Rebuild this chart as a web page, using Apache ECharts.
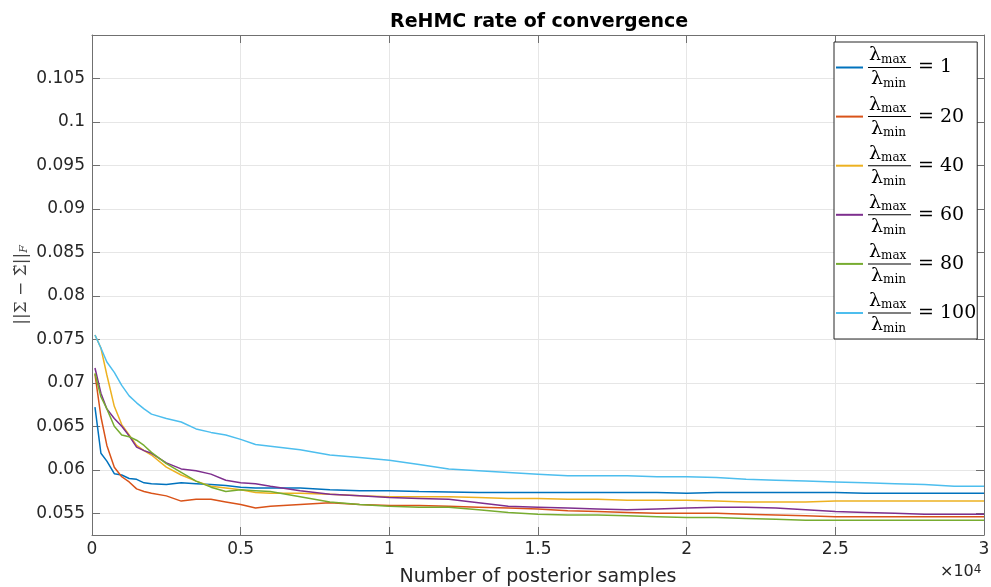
<!DOCTYPE html>
<html>
<head>
<meta charset="utf-8">
<script src="https://cdn.jsdelivr.net/npm/echarts@6/dist/echarts.min.js"></script>
<style>
  html, body { margin: 0; padding: 0; background: #fff; }
  #chart { width: 991px; height: 587px; }
</style>
</head>
<body>
<div id="chart"></div>
<script>
const samples = [100, 300, 500, 750, 1000, 1250, 1500, 1750, 2000, 2500, 3000, 3500, 4000, 4500, 5000,
    5500, 6000, 7000, 8000, 9000, 10000, 11000, 12000, 13000, 14000, 15000, 16000, 17000, 18000, 19000,
    20000, 21000, 22000, 23000, 24000, 25000, 26000, 27000, 28000, 29000, 30000];

const ratios = [1, 20, 40, 60, 80, 100];
const colors = ['#0072BD', '#D95319', '#EDB120', '#7E2F8E', '#77AC30', '#4DBEEE'];

const ratio1 = [0.0672, 0.0619, 0.0610, 0.05955, 0.0594, 0.0590, 0.0589, 0.0585, 0.0584, 0.0583, 0.0585,
    0.0584, 0.0583, 0.0582, 0.0580, 0.0579, 0.0579, 0.0579, 0.0577, 0.0576, 0.0576, 0.0575, 0.05745, 0.0574,
    0.0574, 0.0574, 0.0574, 0.0574, 0.0574, 0.0574, 0.0573, 0.0574, 0.0574, 0.0574, 0.0574, 0.0574, 0.0573,
    0.0573, 0.0573, 0.0573, 0.0573];
const ratio20 = [0.0710, 0.0661, 0.0628, 0.0603, 0.0592, 0.0586, 0.0578, 0.0575, 0.0573, 0.0570, 0.0564,
    0.0566, 0.0566, 0.0563, 0.0560, 0.0556, 0.0558, 0.0560, 0.0562, 0.0560, 0.0559, 0.0559, 0.0558, 0.0557,
    0.0556, 0.0555, 0.0553, 0.0552, 0.0551, 0.0550, 0.0550, 0.0550, 0.0549, 0.0548, 0.0547, 0.0546, 0.0546,
    0.0546, 0.0546, 0.0546, 0.0546];
const ratio40 = [0.0755, 0.0740, 0.0709, 0.0673, 0.0652, 0.0640, 0.0628, 0.0622, 0.0617, 0.0603, 0.0594,
    0.0587, 0.0581, 0.0579, 0.0577, 0.0574, 0.0573, 0.0573, 0.0572, 0.0570, 0.0569, 0.0569, 0.0569, 0.0568,
    0.0567, 0.0567, 0.0566, 0.0566, 0.0565, 0.0565, 0.0565, 0.0564, 0.0563, 0.0563, 0.0563, 0.0564, 0.0564,
    0.0564, 0.0564, 0.0564, 0.0564];
const ratio60 = [0.0717, 0.0688, 0.0670, 0.0659, 0.0650, 0.0639, 0.0626, 0.0622, 0.0619, 0.0608, 0.0601,
    0.0599, 0.0595, 0.0588, 0.0585, 0.0584, 0.0581, 0.0576, 0.0572, 0.0570, 0.0568, 0.0567, 0.0566, 0.0562,
    0.0558, 0.0557, 0.0556, 0.0555, 0.0554, 0.0555, 0.0556, 0.0557, 0.0557, 0.0556, 0.0554, 0.0552, 0.0551,
    0.0550, 0.0549, 0.0549, 0.0549];
const ratio80 = [0.0711, 0.0684, 0.0670, 0.0650, 0.0640, 0.0638, 0.0634, 0.0628, 0.0620, 0.0607, 0.0597,
    0.0587, 0.0580, 0.0575, 0.0577, 0.0576, 0.0575, 0.0569, 0.0563, 0.0560, 0.0558, 0.0557, 0.0557, 0.0554,
    0.0551, 0.0549, 0.0548, 0.0548, 0.0547, 0.0546, 0.0545, 0.0545, 0.0544, 0.0543, 0.0542, 0.0542, 0.0542,
    0.0542, 0.0542, 0.0542, 0.0542];
const ratio100 = [0.0755, 0.0740, 0.0724, 0.0712, 0.0697, 0.0685, 0.0677, 0.0670, 0.0664, 0.0659, 0.0655,
    0.0647, 0.0643, 0.0640, 0.0635, 0.0629, 0.0627, 0.0623, 0.0617, 0.0614, 0.0611, 0.0606, 0.0601, 0.0599,
    0.0597, 0.0595, 0.0593, 0.0593, 0.0593, 0.0592, 0.0592, 0.0591, 0.0589, 0.0588, 0.0587, 0.0586, 0.0585,
    0.0584, 0.0583, 0.0581, 0.0581];

const xTickLabels = ['0', '0.5', '1', '1.5', '2', '2.5', '3'];
const yTickLabels = ['0.055', '0.06', '0.065', '0.07', '0.075', '0.08', '0.085', '0.09', '0.095', '0.1', '0.105'];
const yTicks = yTickLabels.map(Number);

const allValues = [ratio1, ratio20, ratio40, ratio60, ratio80, ratio100];
const seriesNames = ratios.map(r => 'λmax/λmin = ' + r);

const axisColor = '#707070';
const textColor = '#262626';
const gridColor = '#e6e6e6';

const chart = echarts.init(document.getElementById('chart'), null, { renderer: 'canvas' });

// MATLAB style box: inward ticks on all four sides, never snapped to zero
const boxLine = { show: true, onZero: false, lineStyle: { color: axisColor, width: 1 } };
const boxTick = { show: true, inside: true, length: 8, lineStyle: { color: axisColor } };

const xBase = { type: 'value', min: 0, max: 30000, interval: 5000, axisLine: boxLine, axisTick: boxTick };
const yBase = {
    type: 'value',
    min: 0.0525,
    max: 0.11,
    axisLine: boxLine,
    axisTick: Object.assign({}, boxTick, { customValues: yTicks })
};

const option = {
    animation: false,
    backgroundColor: '#fff',
    textStyle: { fontFamily: 'DejaVu Sans' },
    title: {
        text: 'ReHMC rate of convergence',
        left: 385,
        top: 8,
        textStyle: { fontFamily: 'DejaVu Sans', fontSize: 19, fontWeight: 'bold', color: '#000' }
    },
    grid: {
        left: 92,
        right: 7,
        top: 35,
        bottom: 52,
        containLabel: false,
        outerBoundsMode: 'none'
    },
    legend: {
        orient: 'vertical',
        left: 834,
        top: 42,
        icon: 'rect',
        itemWidth: 27,
        itemHeight: 2,
        itemGap: 5.6,
        padding: [4, 1, 4, 2],
        borderColor: textColor,
        borderWidth: 1,
        backgroundColor: '#fff',
        selectedMode: false,
        data: seriesNames,
        formatter: name => {
            const r = name.split('= ')[1];
            return '{n1|λ}{s1|max}\n{bar| }{eq|= ' + r + '}\n{n2|λ}{s2|min}';
        },
        textStyle: {
            color: '#000',
            rich: {
                n1: { fontFamily: 'DejaVu Serif', fontSize: 19, lineHeight: 20, padding: [0, 0, 0, 1] },
                s1: { fontFamily: 'DejaVu Serif', fontSize: 12, lineHeight: 15, verticalAlign: 'bottom' },
                n2: { fontFamily: 'DejaVu Serif', fontSize: 19, lineHeight: 20, padding: [0, 0, 0, 3] },
                s2: { fontFamily: 'DejaVu Serif', fontSize: 12, lineHeight: 15, verticalAlign: 'bottom' },
                bar: { width: 43, height: 1, lineHeight: 4, backgroundColor: '#000' },
                eq: { fontFamily: 'DejaVu Serif', fontSize: 19, lineHeight: 4, padding: [0, 0, 0, 7] }
            }
        }
    },
    xAxis: [
        Object.assign({}, xBase, {
            position: 'bottom',
            axisLabel: {
                color: textColor,
                fontSize: 17,
                margin: 6,
                formatter: v => xTickLabels[Math.round(v / 5000)]
            },
            splitLine: { show: true, lineStyle: { color: gridColor } },
            name: 'Number of posterior samples',
            nameLocation: 'middle',
            nameGap: 33,
            nameTextStyle: { color: textColor, fontSize: 19 }
        }),
        Object.assign({}, xBase, {
            position: 'top',
            axisLabel: { show: false },
            splitLine: { show: false }
        })
    ],
    yAxis: [
        Object.assign({}, yBase, {
            position: 'left',
            axisLabel: {
                customValues: yTicks,
                color: textColor,
                fontSize: 17,
                margin: 7,
                formatter: v => {
                    const i = yTicks.indexOf(v);
                    return i >= 0 ? yTickLabels[i] : String(v);
                }
            },
            splitLine: { show: true, lineStyle: { color: gridColor } },
            name: '{a|||Σ − Σ̃||}{s|F}',
            nameLocation: 'middle',
            nameRotate: 90,
            nameGap: 62,
            nameMoveOverlap: false,
            nameTextStyle: {
                color: textColor,
                rich: {
                    a: { fontFamily: 'DejaVu Serif', fontSize: 17, color: '#444' },
                    s: { fontFamily: 'DejaVu Serif', fontSize: 11, fontStyle: 'italic', color: '#444', verticalAlign: 'bottom', padding: [6, 0, 0, 0] }
                }
            }
        }),
        Object.assign({}, yBase, {
            position: 'right',
            axisLabel: { show: false },
            splitLine: { show: false }
        })
    ],
    graphic: [
        {
            type: 'text',
            left: 940,
            top: 564,
            style: {
                text: '×10{sup|4}',
                fill: textColor,
                font: '16px "DejaVu Sans"',
                rich: {
                    sup: { fontFamily: 'DejaVu Sans', fontSize: 12, verticalAlign: 'top', lineHeight: 12 }
                }
            }
        }
    ],
    series: allValues.map((vals, i) => ({
        name: seriesNames[i],
        type: 'line',
        symbol: 'none',
        showSymbol: false,
        color: colors[i],
        lineStyle: { width: 1.5, color: colors[i] },
        data: samples.map((s, j) => [s, vals[j]])
    }))
};

chart.setOption(option);
</script>
</body>
</html>
